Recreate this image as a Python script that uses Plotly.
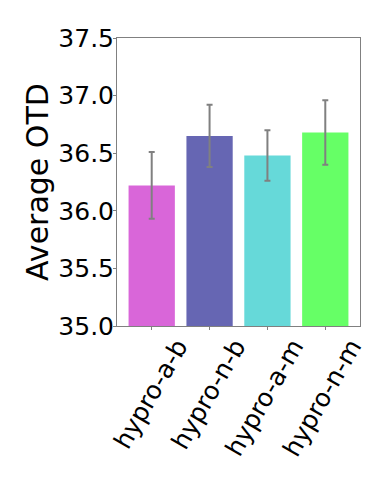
import plotly.graph_objects as go

labels = ['hypro-a-b', 'hypro-n-b', 'hypro-a-m', 'hypro-n-m']
means = [36.22, 36.65, 36.48, 36.68]
errors = [0.29, 0.27, 0.22, 0.28]
colors = ['#d966d9', '#6666b3', '#66d9d9', '#66ff66']
y_ticks = [35.0, 35.5, 36.0, 36.5, 37.0, 37.5]

fig = go.Figure()
fig.add_trace(go.Bar(x = labels,
                     y = means,
                     marker = dict(color = colors, line = dict(width = 0)),
                     error_y = dict(type = 'data', array = errors, visible = True,
                                    color = 'gray', thickness = 2, width = 3)))

# the page body has an 8px margin, so the figure is made smaller to fit the window
fig.update_layout(width = 374, height = 472,
                  margin = dict(l = 109, r = 22, t = 30, b = 154),
                  plot_bgcolor = 'white', paper_bgcolor = 'white',
                  font = dict(family = 'DejaVu Sans', size = 25, color = 'black'),
                  bargap = 0.2, showlegend = False)

fig.update_xaxes(range = [-0.6, 3.6], tickangle = -60, automargin = False,
                 showline = True, linecolor = 'gray', linewidth = 1, mirror = True,
                 ticks = 'outside', ticklen = 3, tickcolor = 'gray',
                 ticklabelshift = 26, ticklabelstandoff = -8, showgrid = False)

fig.update_yaxes(range = [35.0, 37.5], tickvals = y_ticks, tickformat = '.1f',
                 title = dict(text = 'Average OTD', standoff = 0), automargin = False,
                 showline = True, linecolor = 'gray', linewidth = 1, mirror = True,
                 ticks = 'outside', ticklen = 3, tickcolor = 'gray',
                 ticklabelstandoff = -6, showgrid = False, zeroline = False)

fig.write_html("out.html")
